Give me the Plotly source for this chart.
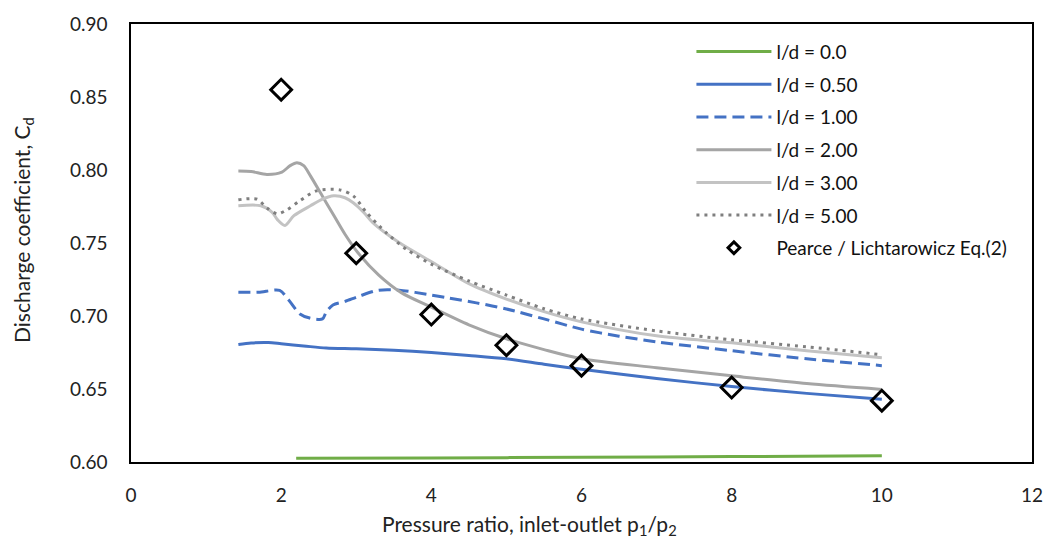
import plotly.graph_objects as go

# Discharge coefficient vs pressure ratio for several orifice length/diameter ratios
x_ld00 = [2.2, 4.0, 6.0, 8.0, 10.0]
cd_ld00 = [0.6025, 0.6028, 0.6032, 0.6037, 0.6042]

x_ld05 = [1.43, 1.6, 1.83, 2.0, 2.3, 2.6, 3.0, 3.5, 4.0, 4.5, 5.0, 5.5, 6.0, 7.0, 8.0, 9.0, 10.0]
cd_ld05 = [0.6805, 0.6815, 0.6818, 0.681, 0.6795, 0.678, 0.6775, 0.6765, 0.675, 0.673,
           0.6707, 0.667, 0.6635, 0.6572, 0.6517, 0.647, 0.643]

x_ld10 = [1.43, 1.7, 1.98, 2.1, 2.25, 2.38, 2.55, 2.6, 2.69, 2.85, 3.04, 3.3, 3.57, 4.0,
          4.24, 4.6, 5.0, 5.5, 6.0, 6.5, 7.0, 8.0, 9.0, 10.0]
cd_ld10 = [0.7163, 0.7163, 0.7175, 0.711, 0.7014, 0.6986, 0.698, 0.7027, 0.7075, 0.710,
           0.7136, 0.7177, 0.7177, 0.7143, 0.7122, 0.709, 0.7048, 0.698, 0.691, 0.6862,
           0.6823, 0.6762, 0.6707, 0.666]

x_ld20 = [1.43, 1.6, 1.81, 2.01, 2.12, 2.21, 2.3, 2.39, 2.55, 2.7, 2.85, 3.02, 3.3, 3.6,
          4.0, 4.5, 5.0, 5.5, 6.0, 7.0, 8.0, 9.0, 10.0]
cd_ld20 = [0.7993, 0.799, 0.797, 0.7986, 0.803, 0.805, 0.803, 0.796, 0.782, 0.769, 0.756,
           0.7435, 0.728, 0.716, 0.706, 0.694, 0.6844, 0.677, 0.6707, 0.6646, 0.659,
           0.6537, 0.6497]

x_ld30 = [1.43, 1.73, 1.88, 1.95, 2.05, 2.17, 2.39, 2.55, 2.7, 2.85, 2.96, 3.1, 3.22, 3.58,
          4.02, 4.5, 5.0, 5.5, 6.0, 7.0, 8.0, 9.0, 10.0]
cd_ld30 = [0.7755, 0.7755, 0.771, 0.766, 0.762, 0.7687, 0.7755, 0.780, 0.7823, 0.781,
           0.7776, 0.771, 0.764, 0.750, 0.7367, 0.7222, 0.7116, 0.703, 0.696, 0.6864,
           0.6816, 0.6762, 0.6714]

x_ld50 = [1.43, 1.68, 1.81, 1.95, 2.08, 2.25, 2.47, 2.78, 2.96, 3.14, 3.4, 3.67, 4.0, 4.5,
          5.0, 5.5, 6.0, 7.0, 8.0, 9.0, 10.0]
cd_ld50 = [0.7796, 0.780, 0.774, 0.770, 0.7728, 0.779, 0.7857, 0.7864, 0.7823, 0.7707,
           0.757, 0.7456, 0.7355, 0.724, 0.7143, 0.705, 0.698, 0.6898, 0.6837, 0.6789,
           0.6735]

x_pearce = [2, 3, 4, 5, 6, 8, 10]
cd_pearce = [0.855, 0.743, 0.701, 0.680, 0.666, 0.651, 0.642]

series = [
    ("l/d = 0.0", x_ld00, cd_ld00, "#70AD47", "solid"),
    ("l/d = 0.50", x_ld05, cd_ld05, "#4472C4", "solid"),
    ("l/d = 1.00", x_ld10, cd_ld10, "#4472C4", "12px,6px"),
    ("l/d = 2.00", x_ld20, cd_ld20, "#A5A5A5", "solid"),
    ("l/d = 3.00", x_ld30, cd_ld30, "#C3C3C3", "solid"),
    ("l/d = 5.00", x_ld50, cd_ld50, "#7F7F7F", "3px,5px"),
]

FONT = "Lato, 'Open Sans', sans-serif"
PEARCE_NAME = "Pearce / Lichtarowicz Eq.(2)"

fig = go.Figure()
for i, (name, xs, ys, color, dash) in enumerate(series):
    fig.add_trace(go.Scatter(
        x=xs, y=ys, name=name, mode="lines", legendgroup=f"g{i}",
        line=dict(color=color, width=3, dash=dash, shape="spline", smoothing=0.8),
    ))

# correlation points (large open diamonds on the chart)
fig.add_trace(go.Scatter(
    x=x_pearce, y=cd_pearce, name=PEARCE_NAME, mode="markers",
    legendgroup="gp", showlegend=False,
    marker=dict(symbol="diamond-open", size=16, color="black", line=dict(width=3, color="black")),
))
# compact legend key for the correlation points
fig.add_trace(go.Scatter(
    x=[None], y=[None], name=PEARCE_NAME, mode="markers", legendgroup="gp",
    marker=dict(symbol="diamond-open", size=9, color="black", line=dict(width=3, color="black")),
))

# axis titles as annotations so they can sit off the plot-area centre
fig.add_annotation(
    text="Pressure ratio, inlet-outlet p<sub>1</sub>/p<sub>2</sub>",
    xref="paper", yref="paper", x=0.4425, y=-0.143, xanchor="center", yanchor="middle",
    showarrow=False, font=dict(family=FONT, size=21, color="#222"),
)
fig.add_annotation(
    text="Discharge coefficient, C<sub>d</sub>",
    xref="paper", yref="paper", x=-0.1206, y=0.5306, xanchor="center", yanchor="middle",
    textangle=-90, showarrow=False, font=dict(family=FONT, size=21, color="#222"),
)

fig.update_layout(
    width=1055, height=546,
    margin=dict(l=131, r=20, t=18, b=84),
    paper_bgcolor="white", plot_bgcolor="white",
    font=dict(family=FONT, size=19, color="#222"),
    showlegend=True,
    legend=dict(
        x=0.622, y=0.98, xanchor="left", yanchor="top",
        font=dict(family=FONT, size=19, color="#111"),
        bgcolor="rgba(0,0,0,0)", tracegroupgap=5, itemwidth=75,
    ),
    xaxis=dict(
        range=[0, 12], dtick=2, tick0=0, showgrid=False, zeroline=False,
        showline=True, linecolor="black", linewidth=1.5, mirror=True,
        ticks="outside", ticklen=15, tickcolor="rgba(0,0,0,0)",
        tickfont=dict(family=FONT, size=19, color="#222"),
    ),
    yaxis=dict(
        range=[0.60, 0.90], dtick=0.05, tick0=0.6, tickformat=".2f", showgrid=False,
        zeroline=False, showline=True, linecolor="black", linewidth=1.5, mirror=True,
        ticks="outside", ticklen=18, tickcolor="rgba(0,0,0,0)",
        tickfont=dict(family=FONT, size=19, color="#222"),
    ),
)

fig.write_html("out.html")
